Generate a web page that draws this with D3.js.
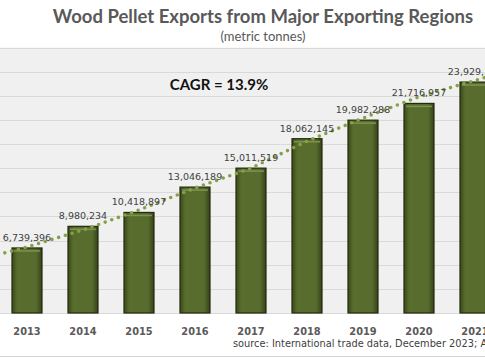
<!DOCTYPE html>
<html>
<head>
<meta charset="utf-8">
<script src="https://cdn.jsdelivr.net/npm/d3@7"></script>
<style>
  body { margin: 0; background: #fff; }
  svg { display: block; }
</style>
</head>
<body>
<div id="chart"></div>
<script>
// data
var years = [2013, 2014, 2015, 2016, 2017, 2018, 2019, 2020, 2021];
var exports_t = [6739396, 8980234, 10418897, 13046189, 15011519, 18062145, 19982288, 21716957, 23929100];
var trend_years = [2012, 2013, 2014, 2015, 2016, 2017, 2018, 2019, 2020, 2021, 2022];
var trend_values = [5.3e6, 6.84e6, 8.6e6, 10.67e6, 12.95e6, 15.0e6, 17.8e6, 20.2e6, 22.4e6, 24.1e6, 25.8e6];
var y_ticks = [0, 2.5e6, 5e6, 7.5e6, 10e6, 12.5e6, 15e6, 17.5e6, 20e6, 22.5e6, 25e6, 27.5e6];

var chart_width = 485;
var chart_height = 360;

var plot_top = 47.6;
var plot_bottom = 313;

var fmt = d3.format(",");

var x = d3.scaleLinear()
          .domain([2013, 2021])
          .range([27, 475]);

var y = d3.scaleLinear()
          .domain([0, 27.5e6])
          .range([plot_bottom, plot_top]);

var svg = d3.select("#chart")
            .append("svg")
            .attr("width", chart_width)
            .attr("height", chart_height);

// bar gradient
var defs = svg.append("defs");
var grad = defs.append("linearGradient")
               .attr("id", "barGrad")
               .attr("x1", "0%").attr("x2", "100%")
               .attr("y1", "0%").attr("y2", "0%");
grad.append("stop").attr("offset", "0%").attr("stop-color", "#3b4a1b");
grad.append("stop").attr("offset", "18%").attr("stop-color", "#586d2d");
grad.append("stop").attr("offset", "80%").attr("stop-color", "#586d2d");
grad.append("stop").attr("offset", "100%").attr("stop-color", "#34411a");

// plot background
svg.append("rect")
   .attr("x", 0)
   .attr("y", plot_top)
   .attr("width", chart_width)
   .attr("height", plot_bottom - plot_top)
   .attr("fill", "#f0f0f0");

// gridlines
svg.append("g")
   .selectAll("line")
   .data(y_ticks)
   .enter()
   .append("line")
   .attr("x1", 0)
   .attr("x2", chart_width)
   .attr("y1", function(d){ return Math.round(y(d)) + 0.5; })
   .attr("y2", function(d){ return Math.round(y(d)) + 0.5; })
   .attr("stroke", "#d9d9d9")
   .attr("stroke-width", 1);

// bottom border of chart
svg.append("line")
   .attr("x1", 0).attr("x2", chart_width)
   .attr("y1", 356.5).attr("y2", 356.5)
   .attr("stroke", "#d4d4d4");

// title
svg.append("text")
   .attr("x", 263)
   .attr("y", 23)
   .attr("text-anchor", "middle")
   .style("font-family", "Lato, 'Open Sans', sans-serif")
   .style("font-weight", "bold")
   .style("font-size", "18.5px")
   .attr("fill", "#595959")
   .text("Wood Pellet Exports from Major Exporting Regions");

svg.append("text")
   .attr("x", 263)
   .attr("y", 41)
   .attr("text-anchor", "middle")
   .style("font-family", "Lato, 'Open Sans', sans-serif")
   .style("font-size", "13px")
   .attr("fill", "#595959")
   .text("(metric tonnes)");

// bars
var bar_w = 30;
var bars = svg.append("g");
bars.selectAll("rect.bar")
    .data(years)
    .enter()
    .append("rect")
    .attr("class", "bar")
    .attr("x", function(d){ return x(d) - bar_w / 2; })
    .attr("y", function(d, i){ return y(exports_t[i]); })
    .attr("width", bar_w)
    .attr("height", function(d, i){ return plot_bottom - y(exports_t[i]); })
    .attr("fill", "url(#barGrad)")
    .attr("stroke", "#222b0c")
    .attr("stroke-width", 1.2);

// top bevel highlight
bars.selectAll("line.hl")
    .data(years)
    .enter()
    .append("line")
    .attr("class", "hl")
    .attr("x1", function(d){ return x(d) - bar_w / 2 + 2; })
    .attr("x2", function(d){ return x(d) + bar_w / 2 - 2; })
    .attr("y1", function(d, i){ return y(exports_t[i]) + 3; })
    .attr("y2", function(d, i){ return y(exports_t[i]) + 3; })
    .attr("stroke", "#7d9450")
    .attr("stroke-width", 1.5);

// trend line (dotted)
var line = d3.line()
             .x(function(d){ return x(d[0]); })
             .y(function(d){ return y(d[1]); });

svg.append("path")
   .datum(trend_years.map(function(d, i){ return [d, trend_values[i]]; }))
   .attr("d", line)
   .attr("fill", "none")
   .attr("stroke", "#85a047")
   .attr("stroke-width", 3.6)
   .attr("stroke-linecap", "round")
   .attr("stroke-dasharray", "0 7");

// value labels
svg.append("g")
   .selectAll("text")
   .data(years)
   .enter()
   .append("text")
   .attr("x", function(d){ return x(d); })
   .attr("y", function(d, i){ return y(exports_t[i]) - 7; })
   .attr("text-anchor", "middle")
   .style("font-family", "'DejaVu Sans', sans-serif")
   .style("font-size", "9.5px")
   .attr("fill", "#404040")
   .text(function(d, i){ return fmt(exports_t[i]); });

// year labels
svg.append("g")
   .selectAll("text")
   .data(years)
   .enter()
   .append("text")
   .attr("x", function(d){ return x(d); })
   .attr("y", 335)
   .attr("text-anchor", "middle")
   .style("font-family", "'DejaVu Sans', sans-serif")
   .style("font-weight", "bold")
   .style("font-size", "9.8px")
   .attr("fill", "#595959")
   .text(function(d){ return d; });

// CAGR note
svg.append("text")
   .attr("x", 219)
   .attr("y", 90)
   .attr("text-anchor", "middle")
   .style("font-family", "Lato, 'Open Sans', sans-serif")
   .style("font-weight", "bold")
   .style("font-size", "15px")
   .attr("fill", "#111")
   .text("CAGR = 13.9%");

// source
svg.append("text")
   .attr("x", 233)
   .attr("y", 347)
   .style("font-family", "'DejaVu Sans', sans-serif")
   .style("font-size", "9.8px")
   .attr("fill", "#404040")
   .text("source: International trade data, December 2023; Analysis");
</script>
</body>
</html>
